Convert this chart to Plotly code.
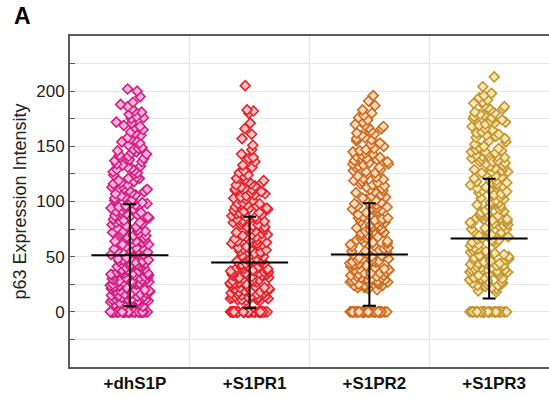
import plotly.graph_objects as go

categories = ["+dhS1P", "+S1PR1", "+S1PR2", "+S1PR3"]

dhs1p = [
    0, 0, 0, 0, 0, 0, 0, 0, 0, 0, 0, 0, 0, 0, 0, 0, 0, 0, 0, 0, 0, 0, 0, 0, 0,
    0, 0, 0, 0, 0, 0, 0, 0, 0, 0, 0, 0, 0, 0, 0, 0, 0, 0, 0, 0,
    200, 202, 195, 186, 160, 190, 184, 181, 177, 172, 169, 175, 165, 158, 162, 154, 156, 151, 167, 179,
    148, 133, 121, 107, 142, 115, 139, 127, 103, 146, 111, 136, 124, 118, 144, 101, 130, 109, 140, 113,
    126, 149, 105, 137, 119, 131, 116, 143, 122, 108, 134, 128, 112, 145, 104,
    97, 62, 84, 71, 55, 93, 78, 66, 88, 59, 99, 74, 52, 81, 68, 91, 57, 86, 64, 76, 95, 53, 70,
    83, 61, 89, 73, 58, 96, 67, 80, 54, 92, 77, 63, 87, 51, 72, 98, 65, 85, 56, 79, 94, 69,
    23, 41, 12, 34, 8, 47, 19, 28, 37, 15, 44, 26, 10, 31, 49, 21, 39, 6, 33, 17, 45, 25, 13, 36, 29,
    9, 42, 18, 48, 24, 11, 35, 20, 43, 27, 14, 38, 7, 32, 46, 22, 16, 40, 30, 5, 26, 33, 19, 44, 12,
    31, 15, 27, 38, 9, 22, 46, 18, 35, 11, 29, 42, 24, 7, 37, 20, 48, 14, 33, 26, 40, 17, 30, 45, 13,
    23, 36, 10, 28, 41,
    188, 171, 163, 182, 157, 176, 153, 168,
    132, 117, 141, 106, 125, 147, 110, 138, 121, 102, 129, 114,
    58, 73, 86, 61, 94, 69, 81, 55, 77, 90, 64, 99, 52, 83, 71,
    21, 34, 16, 43, 27, 9, 38, 30, 12, 47, 25, 19, 41, 35, 14,
]

s1pr1 = [
    0, 0, 0, 0, 0, 0, 0, 0, 0, 0, 0, 0, 0, 0, 0, 0, 0, 0, 0, 0, 0, 0, 0, 0, 0,
    0, 0, 0, 0, 0, 0, 0, 0, 0, 0, 0, 0, 0, 0, 0, 0, 0, 0, 0, 0,
    205, 182, 180, 183, 171, 166, 161, 157, 147, 151, 133, 139, 126, 143, 128, 136,
    121, 117, 112, 108, 104, 119, 114, 110, 106, 102, 123, 115, 101, 109, 118, 113, 105, 111,
    98, 63, 85, 70, 56, 94, 77, 67, 89, 60, 96, 75, 53, 82, 69, 90, 58, 87, 65, 79, 93, 52,
    71, 84, 62, 88, 74, 57, 99, 66, 81, 55, 91, 76, 64, 86, 50, 72, 97, 61, 83, 68, 78, 95,
    24, 40, 13, 35, 11, 46, 20, 29, 36, 16, 43, 27, 12, 32, 48, 22, 38, 14, 34, 18, 44, 26, 15, 37, 30,
    10, 41, 19, 47, 25, 12, 36, 21, 42, 28, 15, 39, 11, 33, 45, 23, 17, 41, 31, 14, 27, 34, 20, 45, 13,
    30, 16, 26, 39, 10, 23, 47, 19, 36, 12,
    124, 107, 131, 116, 103, 120, 140, 111,
    59, 73, 86, 62, 94, 68, 81, 54, 77, 90, 65, 98, 51, 84, 70, 92, 57, 79,
    22, 35, 17, 42, 28, 11, 38, 31, 14, 46, 25, 19, 40, 33, 16, 44, 29, 21, 37, 12, 48, 26, 34, 18,
]

s1pr2 = [
    0, 0, 0, 0, 0, 0, 0, 0, 0, 0, 0, 0, 0, 0, 0, 0, 0, 0, 0, 0,
    0, 0, 0, 0, 0, 0, 0, 0, 0, 0, 0, 0, 0, 0, 0, 0, 0, 0, 0, 0,
    196, 191, 187, 178, 176, 172, 168, 153, 164, 160, 170, 157, 162, 155, 166, 150, 158,
    147, 134, 122, 108, 141, 116, 138, 128, 104, 145, 112, 135, 125, 119, 143, 102, 131,
    110, 139, 114, 127, 148, 106, 136, 120, 132, 117, 142, 123, 109, 133, 129, 113, 144, 101,
    96, 63, 83, 72, 54, 92, 79, 67, 87, 58, 98, 75, 51, 82, 69, 90, 56, 85, 65, 77,
    94, 52, 71, 84, 60, 88, 74, 59, 97, 66, 81, 55, 93, 78, 62, 86, 50, 73, 99, 64,
    34, 41, 22, 37, 26, 47, 30, 45, 24, 39, 32, 44, 21, 36, 49, 28, 42, 25, 35, 46,
    23, 38, 31, 48, 27, 43, 33, 20, 40, 29, 45, 35, 26, 42, 31, 38, 24, 47, 33, 28,
    183, 174, 161, 167, 156, 180, 152, 169,
    137, 118, 146, 105, 126, 140, 111, 131, 121, 103, 134, 115,
    57, 74, 85, 61, 95, 68, 80, 53, 76, 91, 63, 98, 55, 82, 70,
    30, 43, 25, 38, 48, 22, 35, 41, 27, 46, 32, 24, 39, 44, 29,
]

s1pr3 = [
    0, 0, 0, 0, 0, 0, 0, 0, 0, 0, 0, 0, 0, 0, 0, 0, 0, 0, 0, 0,
    0, 0, 0, 0, 0, 0, 0, 0, 0, 0,
    213, 204, 196, 186, 198, 192, 189, 194, 185, 181, 178, 183, 175, 172, 179, 169, 176, 166,
    171, 163, 168, 160, 174, 157, 165, 152, 161, 155, 150, 158,
    146, 135, 121, 109, 140, 117, 137, 129, 103, 144, 113, 134, 126, 118, 142, 101, 130, 111,
    138, 115, 128, 149, 107, 136, 121, 131, 116, 141, 124, 108, 132, 127, 112, 145, 102, 147,
    139, 123, 114, 143,
    95, 64, 82, 73, 53, 91, 80, 68, 86, 57, 97, 76, 52, 83, 70, 89, 55, 84, 66, 78,
    93, 51, 72, 85, 61, 87, 75, 60, 98, 65, 80, 56, 92, 79, 63, 88, 50, 74, 99, 67,
    35, 40, 23, 38, 27, 46, 31, 44, 25, 38, 33, 43, 22, 37, 48, 29, 41, 26, 36, 45,
    24, 39, 30, 47, 28, 42, 34, 19, 41, 30,
    190, 184, 177, 170, 162, 187, 154, 173, 159, 180,
    133, 119, 148, 104, 127, 141, 110, 136, 122, 106, 145, 114,
    58, 75, 87, 62, 96, 69, 81, 54, 78, 90, 65, 99, 53, 84,
    31, 44, 26, 39, 49, 21, 36, 42, 28, 47, 33, 18, 40, 24,
]

means = [51.3, 44.7, 52.0, 66.4]
sds = [46.3, 41.5, 46.5, 54.3]

fills = ["#ffb3dc", "#ffc2c4", "#ffdcc0", "#fbe6b2"]
edges = ["#cf1f80", "#e3222b", "#cc6a1e", "#c3952f"]

FONT = "Liberation Sans, Arial, sans-serif"

fig = go.Figure()
for name, vals, fc, ec in zip(categories, [dhs1p, s1pr1, s1pr2, s1pr3], fills, edges):
    fig.add_trace(go.Box(
        x=[name] * len(vals), y=vals,
        boxpoints="all", jitter=1, pointpos=0, width=0.33,
        fillcolor="rgba(0,0,0,0)", line=dict(color="rgba(0,0,0,0)", width=0),
        marker=dict(symbol="diamond", size=7.6, color=fc, line=dict(color=ec, width=1.6)),
        hoverinfo="skip", showlegend=False,
    ))

fig.add_trace(go.Scatter(
    x=categories, y=means, mode="markers",
    marker=dict(symbol="line-ew", size=55, color="black", line=dict(color="black", width=2)),
    error_y=dict(type="data", array=sds, visible=True, color="black", thickness=2, width=6.5),
    hoverinfo="skip", showlegend=False,
))

ytick_vals = [-25, 0, 25, 50, 75, 100, 125, 150, 175, 200, 225]
ytick_text = ["", "0", "", "50", "", "100", "", "150", "", "200", ""]

fig.update_layout(
    width=549, height=396,
    margin=dict(l=70, r=0, t=36, b=29),
    paper_bgcolor="white", plot_bgcolor="white",
    boxmode="overlay",
    font=dict(family=FONT, size=17, color="#111"),
    xaxis=dict(
        type="category", categoryorder="array", categoryarray=categories,
        range=[-0.5, 3.5], tickson="boundaries", ticks="",
        showgrid=True, gridcolor="#e2e2e2", gridwidth=1,
        showline=True, linecolor="#5a5a5a", linewidth=2, mirror=True,
        tickfont=dict(family=FONT, size=17, color="#111", weight="bold"),
        ticklabelshift=5,
        zeroline=False,
    ),
    yaxis=dict(
        range=[-50, 250], tickvals=ytick_vals, ticktext=ytick_text,
        ticks="inside", ticklen=5, tickcolor="#5a5a5a", tickwidth=1,
        showgrid=True, gridcolor="#e8e8e8", gridwidth=1,
        showline=True, linecolor="#5a5a5a", linewidth=2,
        zeroline=False,
        tickfont=dict(family=FONT, size=17, color="#222"),
        title=dict(text="p63 Expression Intensity", font=dict(family=FONT, size=18, color="#222"), standoff=5),
    ),
    annotations=[dict(
        text="A", xref="paper", yref="paper", x=-0.122, y=1.105, xanchor="left", yanchor="top",
        showarrow=False, font=dict(family=FONT, size=23, color="#000", weight="bold"),
    )],
)

fig.write_html("out.html")
